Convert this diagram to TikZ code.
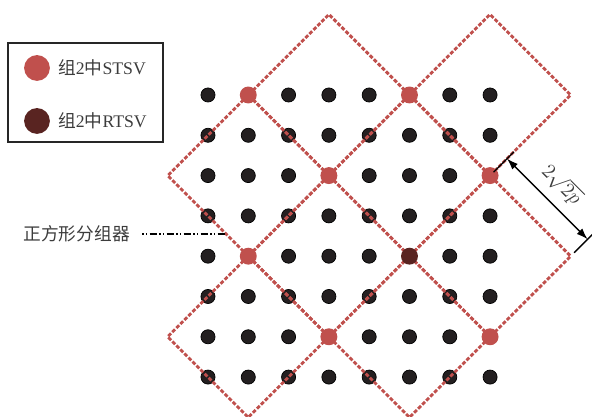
\documentclass[tikz,border=0pt]{standalone}
\usepackage{fontspec}
\setmainfont{Liberation Serif}
\newfontfamily\cjk{Noto Sans CJK SC}
\usepackage{tikz}
\usetikzlibrary{shapes.geometric, arrows.meta, positioning, calc}
\definecolor{stsvred}{RGB}{192, 80, 77}
\definecolor{rtsvdark}{RGB}{89, 36, 33}
\definecolor{dotblack}{RGB}{35, 31, 32}
\definecolor{labelgray}{RGB}{60, 60, 60}

\begin{document}
\begin{tikzpicture}[x=1cm, y=-1cm,
    grouper/.style={diamond, aspect=1, minimum width=4cm, minimum height=4cm, inner sep=0pt, outer sep=0pt,
                    draw=stsvred, line width=2pt, dash pattern=on 2.75pt off 1.2738pt, dash phase=3.3869pt},
    pilot/.style={circle, inner sep=0pt, minimum size=0.35cm, fill=dotblack, draw=black, line width=0.5pt},
    stsv/.style={circle, inner sep=0pt, minimum size=0.42cm, fill=stsvred},
    rtsv/.style={circle, inner sep=0pt, minimum size=0.42cm, fill=rtsvdark},
    legdot/.style={circle, inner sep=0pt, minimum size=0.64cm},
    legtext/.style={anchor=west, inner sep=0pt, font=\fontsize{12.5}{14}\selectfont, text=labelgray},
    dimline/.style={line width=0.9pt, black},
    leader/.style={line width=1.5pt, black, dash pattern=on 1.1pt off 1.6pt on 1.1pt off 1.6pt on 5pt off 1.6pt}
]
\useasboundingbox (-5.161,-2.357) rectangle (9.529,7.990);

% pilot grid
\foreach \c in {0,...,7}
  \foreach \r in {0,...,7}
    \node[pilot] (d\c\r) at (\c,\r) {};

% square groupers
\node[grouper] (sq30) at (3,0) {};
\node[grouper] (sq70) at (7,0) {};
\node[grouper] (sq12) at (1,2) {};
\node[grouper] (sq52) at (5,2) {};
\node[grouper] (sq34) at (3,4) {};
\node[grouper] (sq74) at (7,4) {};
\node[grouper] (sq16) at (1,6) {};
\node[grouper] (sq56) at (5,6) {};

% STSV / RTSV
\node[stsv] (s10) at (1,0) {};
\node[stsv] (s50) at (5,0) {};
\node[stsv] (s32) at (3,2) {};
\node[stsv] (s72) at (7,2) {};
\node[stsv] (s14) at (1,4) {};
\node[rtsv] (r54) at (5,4) {};
\node[stsv] (s36) at (3,6) {};
\node[stsv] (s76) at (7,6) {};

% legend
\node[draw=black!85, line width=0.9pt, minimum width=3.846cm, minimum height=2.456cm] (legend) at (-3.04,-0.062) {};
\node[legdot, fill=stsvred] (leg1) at (-4.243,-0.670) {};
\node[legdot, fill=rtsvdark] (leg2) at (-4.243,0.645) {};
\node[legtext] (legt1) at (-3.722,-0.670) {{\cjk 组}2{\cjk 中}STSV};
\node[legtext] (legt2) at (-3.722,0.645) {{\cjk 组}2{\cjk 中}RTSV};

% grouper label
\node[legtext, anchor=east] (glabel) at (-1.935,3.449) {\cjk 正方形分组器};
\coordinate (tap) at ($(sq12.west)!0.7245!(sq12.south)$);
\draw[leader, shorten <=8.5pt] (glabel.east) -- (tap);

% side length
\draw[dimline] ($(sq74.north)+(0.085,-0.085)$) -- ($(sq74.north)+(0.59,-0.59)$);
\draw[dimline] ($(sq74.east)+(0.085,-0.085)$) -- ($(sq74.east)+(0.59,-0.59)$);
\coordinate (dimA) at ($(sq74.north)+(0.42,-0.42)$);
\coordinate (dimB) at ($(sq74.east)+(0.42,-0.42)$);
\draw[dimline, {Latex[length=8pt,width=5.5pt]}-{Latex[length=8pt,width=5.5pt]}] (dimA) -- (dimB)
    node[midway, sloped, above=3pt, font=\fontsize{15}{17}\selectfont, text=labelgray] {$2\sqrt{2p}$};

\end{tikzpicture}
\end{document}
